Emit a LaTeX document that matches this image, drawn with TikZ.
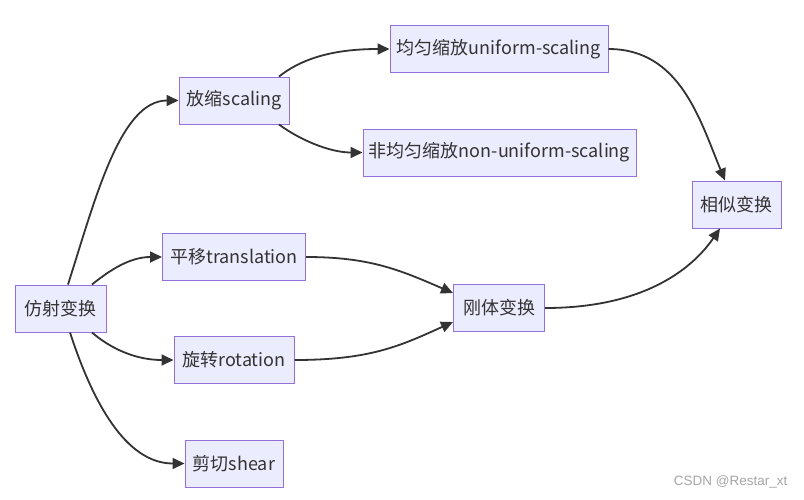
\documentclass[tikz,border=0pt]{standalone}
\usepackage{fontspec}
\setmainfont{Noto Sans CJK SC}
\newfontfamily\wmfont{Liberation Sans}
\usetikzlibrary{arrows.meta}
\definecolor{boxfill}{HTML}{ECECFF}
\definecolor{boxline}{HTML}{9370DB}
\definecolor{ink}{HTML}{333333}
\tikzset{
  box/.style={draw=boxline, fill=boxfill, line width=1pt, minimum height=47pt, inner sep=0pt,
    text=ink, font=\fontsize{18pt}{20pt}\selectfont},
  link/.style={draw=ink, line width=1.8pt, -{Triangle[length=12pt,width=11pt]}}
}
\begin{document}
\begin{tikzpicture}[x=1pt,y=-1pt]
\useasboundingbox (0,0) rectangle (804,499);
\fill[white] (0,0) rectangle (804,499);
\node[box, minimum width=91pt]  (a)   at (60.5,308.5) {仿射变换};
\node[box, minimum width=110pt] (s)   at (234,100.5)  {放缩scaling};
\node[box, minimum width=218pt] (u)   at (499,49)     {均匀缩放uniform-scaling};
\node[box, minimum width=273pt] (n)   at (499.5,152.5){非均匀缩放non-uniform-scaling};
\node[box, minimum width=89pt]  (sim) at (736.5,204.5) {相似变换};
\node[box, minimum width=143pt] (t)   at (234,257)    {平移translation};
\node[box, minimum width=120pt] (r)   at (234,360)    {旋转rotation};
\node[box, minimum width=91pt]  (g)   at (499,308)    {刚体变换};
\node[box, minimum width=98pt]  (sh)  at (234,463.5)  {剪切shear};
\node[text=black!35, font=\wmfont\fontsize{13.5pt}{15pt}\selectfont, anchor=east] (wm) at (791,482) {CSDN @Restar\_xt};

\draw[link] ([xshift=7.5pt]a.north) .. controls (95,200) and (120,100.5) .. (s.west);
\draw[link] ([xshift=31.5pt]a.north) .. controls (110,270) and (130,257) .. (t.west);
\draw[link] ([xshift=31.5pt]a.south) .. controls (110,348) and (135,360) .. (r.west);
\draw[link] ([xshift=9.5pt]a.south) .. controls (92,400) and (125,463.5) .. (sh.west);
\draw[link] ([xshift=45pt]s.north) .. controls (300,60) and (330,49) .. (u.west);
\draw[link] ([xshift=45pt]s.south) .. controls (300,140) and (330,152.5) .. (n.west);
\draw[link] (u.east) .. controls (680,49) and (700,120) .. ([xshift=-11.5pt]sim.north);
\draw[link] (t.east) .. controls (370,257) and (400,270) .. ([yshift=15pt]g.west);
\draw[link] (r.east) .. controls (370,360) and (400,346) .. ([yshift=-14pt]g.west);
\draw[link] (g.east) .. controls (640,308) and (690,272) .. ([xshift=-16.5pt]sim.south);
\end{tikzpicture}
\end{document}
